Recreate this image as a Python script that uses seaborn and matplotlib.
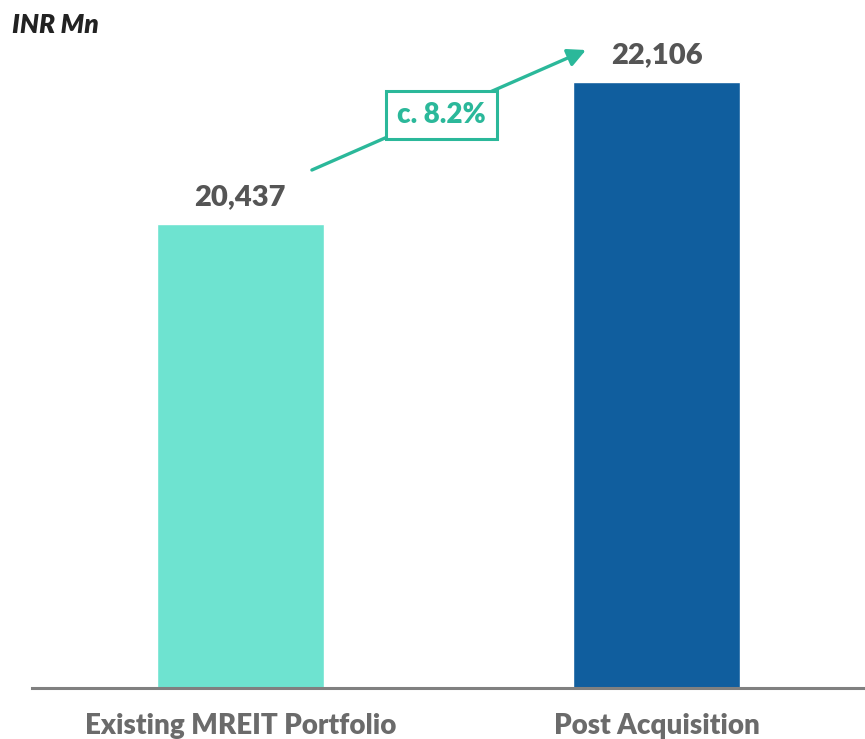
import matplotlib
matplotlib.use("Agg")
import matplotlib.pyplot as plt
import seaborn as sns
import pandas as pd

categories = ["Existing MREIT Portfolio", "Post Acquisition"]
values = [20437, 22106]
growth_label = "c. 8.2%"
unit_label = "INR Mn"
bar_colors = ["#6EE3D0", "#105E9E"]

sns.set_theme(style="white")
plt.rcParams["font.family"] = ["Lato", "DejaVu Sans"]

df = pd.DataFrame({"category": categories, "value": values})

fig = plt.figure(figsize=(8.65, 7.39), dpi=100)
ax = fig.add_axes([32 / 865, 51 / 739, 833 / 865, 668 / 739])

sns.barplot(data=df, x="category", y="value", hue="category",
            palette=bar_colors, width=0.4, legend=False, ax=ax, saturation=1)

ax.set_xlim(-0.5, 1.5)
ax.set_ylim(15000, 22833)
ax.set_xlabel("")
ax.set_ylabel("")
ax.set_yticks([])
for s in ["top", "right", "left"]:
    ax.spines[s].set_visible(False)
ax.spines["bottom"].set_color("#808080")
ax.spines["bottom"].set_linewidth(2.2)
ax.tick_params(axis="x", length=0, pad=18)
for lbl in ax.get_xticklabels():
    lbl.set_fontsize(20)
    lbl.set_fontweight("heavy")
    lbl.set_color("#6B6B6B")

for i, v in enumerate(values):
    ax.annotate(f"{v:,}", (i, v), xytext=(0, 10), textcoords="offset points",
                ha="center", va="bottom", fontsize=21, fontweight="heavy",
                color="#555555")

# growth arrow between the two bars
teal = "#2BB89A"
ax.annotate("", xy=(0.83, 22481), xytext=(0.172, 21074),
            arrowprops=dict(arrowstyle="-|>,head_length=0.9,head_width=0.45",
                            color=teal, lw=2.4, shrinkA=0, shrinkB=0))
ax.text(0.484, 21719, growth_label, ha="center", va="center", fontsize=20,
        fontweight="heavy", color=teal,
        bbox=dict(boxstyle="square,pad=0.4", fc="white", ec=teal, lw=2.2))

fig.text(12 / 865, 1 - 25 / 739, unit_label, ha="left", va="center",
         fontsize=19, fontweight="heavy", fontstyle="italic", color="#222222")

fig.savefig("out.png", dpi=100, facecolor="white")
